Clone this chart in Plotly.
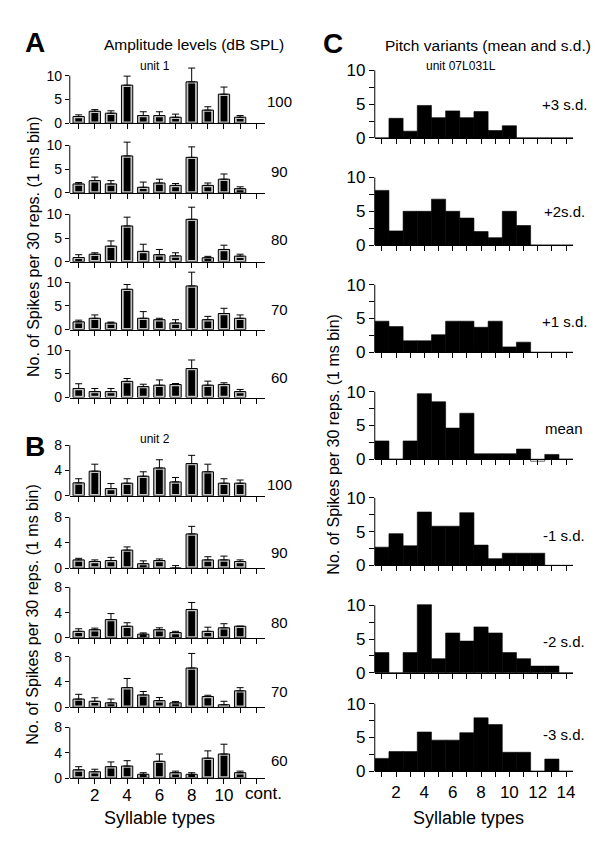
import plotly.graph_objects as go

W, H = 602, 843
FONT = "Arial, Liberation Sans, sans-serif"

# syllable types 1-10, 11 = continuous song ("cont.")
syllables = list(range(1, 12))

# Panel A, unit 1: spikes per 30 reps at each amplitude (dB SPL), with s.d.
a_levels = ["100", "90", "80", "70", "60"]
a_100 = [1.4, 2.5, 2.1, 8.0, 1.6, 1.6, 1.25, 8.7, 2.75, 6.1, 1.25]
a_100_sd = [0.35, 0.35, 0.5, 1.9, 0.8, 0.8, 0.65, 2.9, 0.7, 1.5, 0.35]
a_90 = [1.9, 2.6, 1.9, 7.8, 1.2, 2.1, 1.6, 7.5, 1.6, 2.9, 0.9]
a_90_sd = [0.3, 0.75, 0.7, 2.9, 1.1, 0.8, 0.4, 2.2, 0.5, 1.1, 0.4]
a_80 = [0.9, 1.6, 3.3, 7.55, 2.2, 1.5, 1.25, 8.95, 0.85, 2.6, 1.2]
a_80_sd = [0.6, 0.3, 1.1, 1.85, 1.5, 1.1, 0.65, 2.55, 0.3, 0.9, 0.4]
a_70 = [1.65, 2.4, 1.4, 8.5, 2.4, 2.1, 1.4, 9.2, 2.1, 3.4, 2.4]
a_70_sd = [0.35, 0.7, 0.2, 1.0, 1.4, 0.3, 0.7, 2.9, 0.7, 1.1, 0.7]
a_60 = [1.9, 1.25, 1.25, 3.4, 2.3, 2.6, 2.75, 6.1, 2.6, 2.75, 1.25]
a_60_sd = [1.0, 0.65, 0.65, 0.6, 0.5, 1.1, 0.2, 1.8, 0.85, 0.35, 0.45]

# Panel B, unit 2
b_levels = ["100", "90", "80", "70", "60"]
b_100 = [2.05, 3.9, 1.15, 2.0, 3.1, 4.4, 2.2, 5.1, 3.8, 2.0, 2.0]
b_100_sd = [0.65, 1.1, 0.8, 0.7, 0.7, 1.3, 0.7, 1.3, 1.2, 0.7, 0.5]
b_90 = [1.3, 1.05, 1.2, 2.85, 0.7, 1.2, 0, 5.4, 1.3, 1.3, 1.05]
b_90_sd = [0.25, 0.25, 0.5, 0.5, 0.45, 0.25, 0.4, 1.2, 0.5, 0.6, 0.25]
b_80 = [1.05, 1.3, 2.9, 1.85, 0.6, 1.3, 0.85, 4.5, 1.05, 1.6, 1.85]
b_80_sd = [0.4, 0.25, 0.95, 0.55, 0.2, 0.3, 0.2, 1.1, 0.65, 0.65, 0]
b_70 = [1.3, 0.95, 0.7, 3.1, 1.95, 1.05, 0.7, 6.2, 1.7, 0.4, 2.6]
b_70_sd = [0.75, 0.55, 0.6, 1.45, 0.55, 0.5, 0.2, 2.3, 0.2, 0.55, 0.5]
b_60 = [1.3, 1.0, 1.8, 1.9, 0.6, 2.65, 0.85, 0.6, 3.15, 3.8, 0.85]
b_60_sd = [0.5, 0.4, 0.75, 0.85, 0.25, 1.15, 0.25, 0.25, 1.15, 1.55, 0.25]

# Panel C, unit 07L031L: pitch variants
pitch_x = list(range(1, 15))
c_labels = ["+3 s.d.", "+2s.d.", "+1 s.d.", "mean", "-1 s.d.", "-2 s.d.", "-3 s.d."]
c_p3 = [0, 2.9, 1.0, 4.8, 3.0, 4.0, 3.0, 3.9, 1.1, 1.8, 0, 0, 0, 0]
c_p2 = [8.1, 2.1, 5.0, 5.0, 6.8, 5.0, 4.0, 2.0, 1.1, 5.0, 2.9, 0, 0, 0]
c_p1 = [4.6, 3.8, 1.7, 1.7, 2.6, 4.6, 4.6, 3.7, 4.6, 0.8, 1.5, 0, 0, 0]
c_mean = [2.7, 0, 2.7, 9.7, 8.5, 4.6, 6.8, 0.8, 0.8, 0.8, 1.5, -0.3, 0.7, 0]
c_m1 = [2.7, 4.7, 2.9, 7.9, 5.8, 5.8, 7.8, 3.0, 1.0, 1.8, 1.8, 1.8, 0, 0]
c_m2 = [3.0, 0, 3.0, 10.1, 2.1, 5.9, 4.7, 6.8, 5.9, 3.0, 2.1, 1.0, 1.0, 0]
c_m3 = [1.9, 2.9, 2.9, 5.8, 4.6, 4.6, 5.7, 7.9, 6.9, 2.8, 2.8, 0, 1.8, 0]


def py(p):
    return 1 - p / H


def px(p):
    return p / W


fig = go.Figure()
axes = {}
shapes = []
annotations = []
count = [0]


def sfx(n):
    return "" if n == 1 else str(n)


def add_bar_panel(vals, sds, zero, ppu, ymax, ytop, dtick, bottom):
    count[0] += 1
    s = sfx(count[0])
    inset = 1.8 / ppu
    fig.add_trace(go.Bar(
        x=syllables, y=vals, width=0.7,
        marker=dict(color="#c4c4c4", line=dict(color="black", width=1)),
        error_y=dict(type="data", symmetric=False, array=sds,
                     arrayminus=[0] * len(sds), color="black",
                     thickness=1, width=3.5),
        xaxis=f"x{s}", yaxis=f"y{s}"))
    fig.add_trace(go.Bar(
        x=syllables, y=[max(v - 2 * inset, 0) for v in vals], base=inset,
        width=0.42, marker=dict(color="black", line=dict(width=0)),
        xaxis=f"x{s}", yaxis=f"y{s}"))
    ticktext = ["", "2", "", "4", "", "6", "", "8", "", "10", "", ""]
    axes[f"xaxis{s}"] = dict(
        domain=[px(62), px(258)], range=[0.45, 12.55], anchor=f"y{s}",
        showline=True, linecolor="black", linewidth=1, ticks="outside",
        ticklen=5, tickcolor="black", tickmode="array",
        tickvals=list(range(1, 13)), ticktext=ticktext,
        showticklabels=bottom, showgrid=False, zeroline=False,
        ticklabelstandoff=-3,
        tickfont=dict(size=17, color="black", family=FONT))
    axes[f"yaxis{s}"] = dict(
        domain=[py(zero), py(zero - ymax * ppu)], range=[0, ymax],
        anchor=f"x{s}", showline=False, ticks="outside", ticklen=4,
        tickcolor="black", tickmode="linear", tick0=0, dtick=dtick,
        showgrid=False, zeroline=False,
        tickfont=dict(size=14, color="black", family=FONT))
    shapes.append(dict(type="line", xref=f"x{s} domain", yref=f"y{s}",
                       x0=0, x1=0, y0=0, y1=ytop,
                       line=dict(color="black", width=1)))


def add_hist_panel(vals, zero, bottom):
    count[0] += 1
    s = sfx(count[0])
    ppu = 6.87
    fig.add_trace(go.Bar(
        x=pitch_x, y=vals, width=1,
        marker=dict(color=["white" if v < 0 else "black" for v in vals],
                    line=dict(color="black", width=0.6)),
        xaxis=f"x{s}", yaxis=f"y{s}"))
    ticktext = ["" if i % 2 else str(i) for i in pitch_x]
    axes[f"xaxis{s}"] = dict(
        domain=[px(368), px(567)], range=[0.5, 14.5], anchor="free",
        position=py(zero), showline=True, linecolor="black", linewidth=1,
        ticks="outside", ticklen=5, tickcolor="black", tickmode="array",
        tickvals=pitch_x, ticktext=ticktext, showticklabels=bottom,
        showgrid=False, zeroline=False,
        tickfont=dict(size=17, color="black", family=FONT))
    axes[f"yaxis{s}"] = dict(
        domain=[py(zero + 0.6 * ppu), py(zero - 10.4 * ppu)],
        range=[-0.6, 10.4], anchor=f"x{s}", showline=False,
        ticks="outside", ticklen=5, tickcolor="black", tickmode="linear",
        tick0=0, dtick=5, showgrid=False, zeroline=False,
        minor=dict(dtick=2.5, ticks="outside", ticklen=5, tickcolor="black"),
        tickfont=dict(size=17, color="black", family=FONT))
    shapes.append(dict(type="line", xref=f"x{s} domain", yref=f"y{s}",
                       x0=0, x1=0, y0=0, y1=10,
                       line=dict(color="black", width=1)))


def label(text, x, y, size, bold=False, angle=0):
    annotations.append(dict(
        text=f"<b>{text}</b>" if bold else text, x=px(x), y=py(y),
        xref="paper", yref="paper", showarrow=False, textangle=angle,
        xanchor="center", yanchor="middle",
        font=dict(size=size, color="black", family=FONT)))


# panel A
a_vals = [a_100, a_90, a_80, a_70, a_60]
a_sds = [a_100_sd, a_90_sd, a_80_sd, a_70_sd, a_60_sd]
a_zero = [111, 182, 252, 321, 390]
a_lab_y = [89, 160, 229, 300, 370]
for i in range(5):
    add_bar_panel(a_vals[i], a_sds[i], a_zero[i], 4.83, 12.6, 10, 5, False)
    label(a_levels[i], 272, a_lab_y[i], 15)

# panel B
b_vals = [b_100, b_90, b_80, b_70, b_60]
b_sds = [b_100_sd, b_90_sd, b_80_sd, b_70_sd, b_60_sd]
b_zero = [490, 563.5, 634.5, 705, 777]
b_lab_y = [478, 548, 619, 689, 759]
for i in range(5):
    add_bar_panel(b_vals[i], b_sds[i], b_zero[i], 6.44, 9, 8, 4, i == 4)
    label(b_levels[i], 272, b_lab_y[i], 15)

# panel C
c_vals = [c_p3, c_p2, c_p1, c_mean, c_m1, c_m2, c_m3]
c_zero = [126, 235, 344, 452.7, 560.7, 670, 770]
c_lab_y = [92, 201, 313, 422, 530, 638, 733]
for i in range(7):
    add_hist_panel(c_vals[i], c_zero[i], i == 6)
    label(c_labels[i], 558, c_lab_y[i], 15)

# titles and axis labels
label("A", 27, 29, 28, bold=True)
label("Amplitude levels (dB SPL)", 187, 31, 15.5)
label("unit 1", 147, 53, 12)
label("B", 27, 440, 28, bold=True)
label("unit 2", 147, 432, 12)
label("C", 326, 30, 28, bold=True)
label("Pitch variants (mean and s.d.)", 482, 32, 15.5)
label("unit 07L031L", 455, 53, 12)
ylab = "No. of Spikes per 30 reps. (1 ms bin)"
label(ylab, 25, 236, 16, angle=-90)
label(ylab, 25, 610, 16, angle=-90)
label(ylab, 327, 437, 16, angle=-90)
label("cont.", 256, 793, 17)
label("Syllable types", 152, 818, 18)
label("Syllable types", 462, 818, 18)

fig.update_layout(
    width=W, height=H, margin=dict(l=0, r=0, t=0, b=0),
    paper_bgcolor="white", plot_bgcolor="white",
    barmode="overlay", showlegend=False,
    shapes=shapes, annotations=annotations, **axes)

fig.write_html("out.html")
